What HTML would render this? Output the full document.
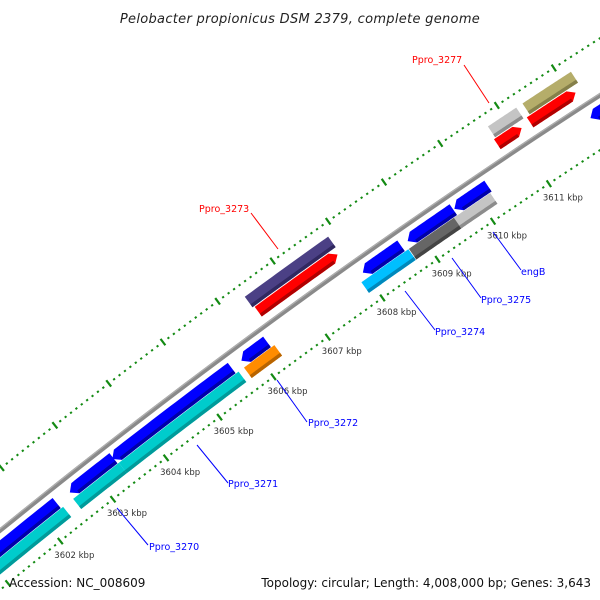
<!DOCTYPE html>
<html><head><meta charset="utf-8"><style>
body{margin:0;background:#fff;overflow:hidden}
svg{display:block}
text{font-family:"DejaVu Sans","Liberation Sans",sans-serif}
</style></head><body>
<svg id="map" width="600" height="600" viewBox="0 0 600 600" xmlns="http://www.w3.org/2000/svg">
<rect width="600" height="600" fill="#fff"/>
<g id="ticks"></g>
<g id="feats"></g>
<g id="labels"></g>
<text x="300" y="23" text-anchor="middle" font-size="13" font-style="italic" letter-spacing="0.3" fill="#222">Pelobacter propionicus DSM 2379, complete genome</text>
<text x="9" y="587" font-size="12" fill="#111">Accession: NC_008609</text>
<text x="591" y="587" text-anchor="end" font-size="12" fill="#111">Topology: circular; Length: 4,008,000 bp; Genes: 3,643</text>
</svg>
<script>
// data (kbp)
const featStart = [3600.0, 3602.56, 3603.36, 3605.76, 3607.98, 3608.79, 3609.63, 3612.05, 3600.0, 3602.54, 3603.4, 3605.73, 3607.88, 3608.74, 3609.55, 3606.36, 3606.39, 3610.72, 3610.69, 3611.33, 3611.27];
const featEnd   = [3602.31, 3603.38, 3605.58, 3606.23, 3608.67, 3609.61, 3610.23, 3613.0, 3602.35, 3603.4, 3605.63, 3606.29, 3608.73, 3609.58, 3610.2, 3607.87, 3607.83, 3611.22, 3611.12, 3612.18, 3612.07];
const featRing  = ["blue","blue","blue","blue","blue","blue","blue","blue","inner","inner","inner","inner","inner","inner","inner","outer","red","outer","red","outer","red"];
const featColor = ["#0000ff","#0000ff","#0000ff","#0000ff","#0000ff","#0000ff","#0000ff","#0000ff","#00cccc","#00cccc","#00cccc","#ff8c00","#00bfff","#666666","#c4c4c4","#4b4085","#ff0000","#c4c4c4","#ff0000","#b5ad6a","#ff0000"];
const featShade = ["#0000a8","#0000a8","#0000a8","#0000a8","#0000a8","#0000a8","#0000a8","#0000a8","#009a9a","#009a9a","#009a9a","#b86400","#0088bb","#444444","#8c8c8c","#302860","#b00000","#8c8c8c","#b00000","#85804a","#b00000"];
const featArrow = [0,-1,-1,-1,-1,-1,-1,-1,0,0,0,0,0,0,0,0,1,0,1,0,1];
const tickKbp = [3602,3603,3604,3605,3606,3607,3608,3609,3610,3611];
const tickLabels = ["3602 kbp","3603 kbp","3604 kbp","3605 kbp","3606 kbp","3607 kbp","3608 kbp","3609 kbp","3610 kbp","3611 kbp"];
const geneNames = ["Ppro_3277","Ppro_3273","Ppro_3270","Ppro_3271","Ppro_3272","Ppro_3274","Ppro_3275","engB"];
const geneColors = ["#ff0000","#ff0000","#0000ff","#0000ff","#0000ff","#0000ff","#0000ff","#0000ff"];

const NS="http://www.w3.org/2000/svg";
const CX=4286, CY=5806;
const ringR={outer:6826, red:6812.5, blue:6783, inner:6769.5};
const ringW={outer:13, red:12, blue:13, inner:13};
function ang(k){return (-128.18+(k-3603)*0.571)*Math.PI/180;}
function pt(r,k){const a=ang(k);return [CX+r*Math.cos(a),CY+r*Math.sin(a)];}
function mk(tag,attrs,parent){const e=document.createElementNS(NS,tag);for(const k in attrs)e.setAttribute(k,attrs[k]);parent.appendChild(e);return e;}
function arcPts(r,k1,k2,n){const p=[];for(let i=0;i<=n;i++){p.push(pt(r,k1+(k2-k1)*i/n));}return p;}
const kPerPx=1/67.7;

const ticks=document.getElementById('ticks');
const backbone=mk('polyline',{points:arcPts(6797,3598,3616,60).map(p=>p.join(',')).join(' '),fill:'none',stroke:'#8a8a8a','stroke-width':4.5},ticks);


const bbHi=mk('polyline',{points:arcPts(6798.5,3598,3616,60).map(p=>p.join(',')).join(' '),fill:'none',stroke:'#b0b0b0','stroke-width':1.2},ticks);



for(let i=35990;i<=36140;i++){
  const k=i/10;
  const major=(i%10===0);
  [6845,6751].forEach(r=>{
    const a=ang(k);
    const L=major?4:1;
    const p1=[CX+(r-L)*Math.cos(a),CY+(r-L)*Math.sin(a)];
    const p2=[CX+(r+L)*Math.cos(a),CY+(r+L)*Math.sin(a)];
    const t=mk('line',{x1:p1[0],y1:p1[1],x2:p2[0],y2:p2[1],stroke:'#138a13','stroke-width':2.2},ticks);
    
    
  });
}
tickKbp.forEach((k,i)=>{
  const p=pt(6751,k);
  const t=mk('text',{x:p[0]-6,y:p[1]+17,'font-size':8.5,fill:'#333'},ticks);
  t.textContent=tickLabels[i];
  
  
});

const feats=document.getElementById('feats');
featStart.forEach((s,i)=>{
  const e=featEnd[i], r=ringR[featRing[i]], W=ringW[featRing[i]], ah=7*kPerPx;
  const ro=r+W/2, ri=r-W/2, n=24;
  let body1=s, body2=e, poly=[];
  if(featArrow[i]===1) body2=e-ah;
  if(featArrow[i]===-1) body1=s+ah;
  const outer=arcPts(ro,body1,body2,n), inner=arcPts(ri,body1,body2,n).reverse();
  poly=poly.concat(outer);
  if(featArrow[i]===1){poly.push(pt(r,e));}
  poly=poly.concat(inner);
  if(featArrow[i]===-1){poly.push(pt(r,s));}
  const g=mk('g',{},feats);
  
  
  mk('polygon',{points:poly.map(p=>p.join(',')).join(' '),fill:featColor[i]},g);
  const sh=arcPts(ri+3.5,body1,body2,n).concat(arcPts(ri,body1,body2,n).reverse());
  mk('polygon',{points:sh.map(p=>p.join(',')).join(' '),fill:featShade[i]},g);
});

const labels=document.getElementById('labels');
const leaderFrom=[[464,65],[251,213],[117,508],[197,445],[277,380],[405,291],[452,258],[493,232]];
const leaderTo=[[489,103],[278,249],[148,545],[228,483],[307,422],[435,330],[481,298],[521,270]];
const textPos=[[412,63],[199,212],[149,550],[228,487],[308,426],[435,335],[481,303],[521,275]];
geneNames.forEach((nm,i)=>{
  const l=mk('line',{x1:leaderFrom[i][0],y1:leaderFrom[i][1],x2:leaderTo[i][0],y2:leaderTo[i][1],stroke:geneColors[i],'stroke-width':1},labels);
  
  
  const t=mk('text',{x:textPos[i][0],y:textPos[i][1],'font-size':9.5,fill:geneColors[i]},labels);
  t.textContent=nm;
  
  
});
</script>
</body></html>
